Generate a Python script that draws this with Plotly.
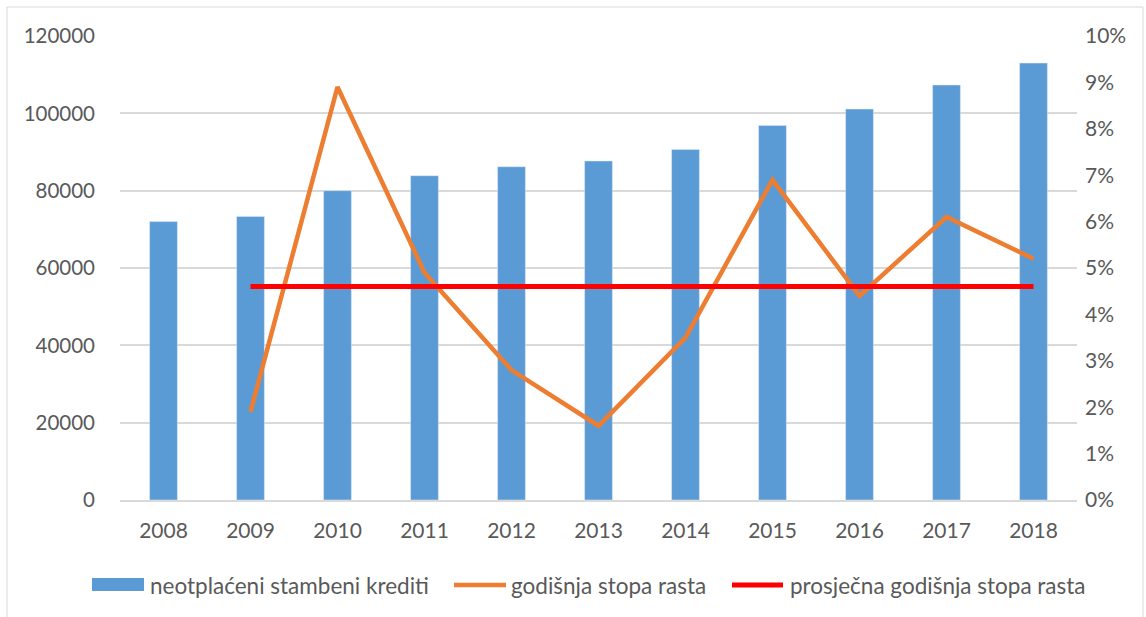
import plotly.graph_objects as go

years = ["2008", "2009", "2010", "2011", "2012", "2013", "2014", "2015", "2016", "2017", "2018"]
loans = [72000, 73350, 80000, 83870, 86200, 87670, 90670, 96870, 101110, 107320, 113000]
growth = [None, 0.019, 0.089, 0.049, 0.028, 0.016, 0.035, 0.069, 0.044, 0.061, 0.052]
avg_growth = [None] + [0.046] * 10

left_ticks = [0, 20000, 40000, 60000, 80000, 100000, 120000]
right_ticks = [i / 100 for i in range(0, 11)]

names = ["neotplaćeni stambeni krediti", "godišnja stopa rasta", "prosječna godišnja stopa rasta"]

W, H = 1146, 617
L, R, T, B = 120, 1077, 36, 500
FONT = "Lato"
GREY = "#595959"
TICK = 21
LEG = 22.5

fig = go.Figure()
fig.add_trace(go.Bar(x=years, y=loans, name=names[0], marker_color="#5B9BD5",
                     showlegend=False, yaxis="y"))
fig.add_trace(go.Scatter(x=years, y=growth, name=names[1], mode="lines",
                         line=dict(color="#ED7D31", width=4.5), showlegend=False, yaxis="y2"))
fig.add_trace(go.Scatter(x=years, y=avg_growth, name=names[2], mode="lines",
                         line=dict(color="#FF0000", width=5), showlegend=False, yaxis="y2"))


def px(x):
    return (x - L) / (R - L)


def py(y):
    return (B - y) / (B - T)


shapes = [
    dict(type="rect", xref="paper", yref="paper", x0=px(7), x1=px(1143), y0=py(640), y1=py(7),
         line=dict(color="#D9D9D9", width=1), fillcolor="rgba(0,0,0,0)", layer="below"),
    # legend symbols
    dict(type="rect", xref="paper", yref="paper", x0=px(92), x1=px(144), y0=py(591), y1=py(578),
         line=dict(width=0), fillcolor="#5B9BD5"),
    dict(type="line", xref="paper", yref="paper", x0=px(454), x1=px(506), y0=py(585), y1=py(585),
         line=dict(color="#ED7D31", width=4.5)),
    dict(type="line", xref="paper", yref="paper", x0=px(732), x1=px(783), y0=py(585), y1=py(585),
         line=dict(color="#FF0000", width=5)),
]
annotations = [
    dict(text=names[0], xref="paper", yref="paper", x=px(148), y=py(585), xanchor="left",
         yanchor="middle", showarrow=False, font=dict(family=FONT, size=LEG, color=GREY)),
    dict(text=names[1], xref="paper", yref="paper", x=px(509), y=py(585), xanchor="left",
         yanchor="middle", showarrow=False, font=dict(family=FONT, size=LEG, color=GREY)),
    dict(text=names[2], xref="paper", yref="paper", x=px(788), y=py(585), xanchor="left",
         yanchor="middle", showarrow=False, font=dict(family=FONT, size=LEG, color=GREY)),
]

fig.update_layout(
    width=W, height=H,
    margin=dict(l=L, r=W - R, t=T, b=H - B, pad=0),
    paper_bgcolor="white", plot_bgcolor="white",
    bargap=0.68,
    showlegend=False,
    font=dict(family=FONT, size=TICK, color=GREY),
    xaxis=dict(type="category", showgrid=False, showline=True, linecolor="#D9D9D9", linewidth=1.5,
               ticks="", ticklabelstandoff=11, tickfont=dict(family=FONT, size=TICK, color=GREY)),
    yaxis=dict(range=[0, 120000], tickvals=left_ticks, ticktext=[str(v) for v in left_ticks],
               showgrid=True, gridcolor="#D9D9D9", gridwidth=1.5, zeroline=False, showline=False,
               ticks="", ticklabelstandoff=24, tickfont=dict(family=FONT, size=20.5, color=GREY)),
    yaxis2=dict(range=[0, 0.10], tickvals=right_ticks, tickformat=".0%", overlaying="y", side="right",
                showgrid=False, zeroline=False, showline=False, ticks="", ticklabelstandoff=7,
                tickfont=dict(family=FONT, size=21, color=GREY)),
    shapes=shapes,
    annotations=annotations,
)

fig.write_html("out.html", config={"displayModeBar": False},
               post_script="document.body.style.margin='0';document.body.style.overflow='hidden';")
